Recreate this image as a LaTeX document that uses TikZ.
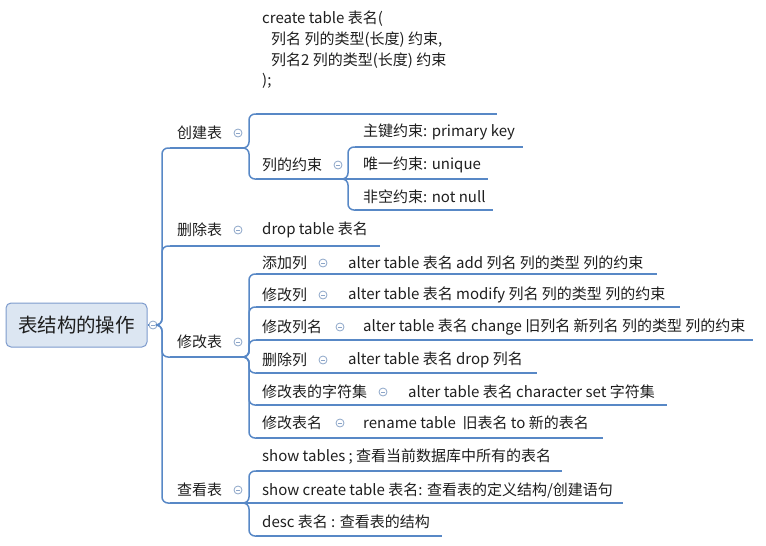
\documentclass[tikz,border=0pt]{standalone}
\usepackage{fontspec}
\setmainfont{Noto Sans CJK SC}
\definecolor{lc}{RGB}{88,136,198}
\definecolor{cc}{RGB}{140,165,200}
\definecolor{tc}{RGB}{30,30,30}
\definecolor{rf}{RGB}{220,230,242}
\definecolor{rb}{RGB}{125,155,205}
\tikzset{
  t/.style={anchor=west, inner sep=0pt, text=tc, font=\fontsize{15}{17}\selectfont},
  uline/.style={draw=lc, line width=1.5pt},
  conn/.style={draw=lc, line width=1.5pt, rounded corners=6pt},
  fold/.style={circle, draw=cc, fill=white, line width=0.8pt, minimum size=8pt, inner sep=0pt,
    path picture={\draw[cc, line width=0.8pt] ([xshift=-2pt]path picture bounding box.center) -- ([xshift=2pt]path picture bounding box.center);}},
  rootbox/.style={draw=rb, fill=rf, line width=1pt, rounded corners=5pt, minimum width=141pt, minimum height=44pt,
    inner sep=0pt, text=tc, font=\fontsize{19.5}{22}\selectfont}
}
\begin{document}
\begin{tikzpicture}[x=1pt, y=-1pt]
\useasboundingbox (0,0) rectangle (766,546);

% root
\node[rootbox] (root) at (76.5,325) {表结构的操作};
\node[fold] (rootc) at (153,325) {};
\coordinate (v0) at (162,325);

% level 1
\node[t] (cj) at (177,133) {创建表};
\coordinate (cj-l) at (170,148); \coordinate (cj-r) at (243,148);
\node[t] (sc) at (177,230) {删除表};
\coordinate (sc-l) at (170,246); \coordinate (sc-r) at (243,246);
\node[t] (xg) at (177,342) {修改表};
\coordinate (xg-l) at (170,357); \coordinate (xg-r) at (243,357);
\node[t] (ck) at (177,490) {查看表};
\coordinate (ck-l) at (170,503); \coordinate (ck-r) at (243,503);

\draw[conn] (root.east) -- (rootc.west);
\foreach \n in {cj,sc,xg,ck}{
  \draw[conn] (rootc.east) -- (v0) |- (\n-l);
  \draw[uline] (\n-l) -- (\n-r);
}

% 创建表 children
\coordinate (v1) at (249,148);
\node[t] (blk1) at (262,19) {create table 表名(};
\node[t] (blk2) at (271,40) {列名 列的类型(长度) 约束,};
\node[t] (blk3) at (271,61) {列名2 列的类型(长度) 约束};
\node[t] (blk4) at (262,81) {);};
\coordinate (blk-l) at (256,114); \coordinate (blk-r) at (497,114);
\node[t] (yz) at (262,165) {列的约束};
\coordinate (yz-l) at (256,179); \coordinate (yz-r) at (342,179);
\draw[conn] (cj-r) -- (v1) |- (blk-l);
\draw[conn] (cj-r) -- (v1) |- (yz-l);
\draw[uline] (blk-l) -- (blk-r);
\draw[uline] (yz-l) -- (yz-r);

% 列的约束 children
\coordinate (v2) at (348,179);
\node[t] (zj) at (363,132) {主键约束: primary key};
\coordinate (zj-l) at (355,147); \coordinate (zj-r) at (523,147);
\node[t] (wy) at (363,165) {唯一约束: unique};
\coordinate (wy-l) at (355,179); \coordinate (wy-r) at (488,179);
\node[t] (fk) at (363,197) {非空约束: not null};
\coordinate (fk-l) at (355,210); \coordinate (fk-r) at (493,210);
\draw[conn] (yz-r) -- (v2) |- (zj-l);
\draw[conn] (yz-r) -- (wy-l);
\draw[conn] (yz-r) -- (v2) |- (fk-l);
\foreach \n in {zj,wy,fk}{ \draw[uline] (\n-l) -- (\n-r); }

% 删除表 child
\node[t] (dt) at (262,230) {drop table 表名};
\coordinate (dt-l) at (256,246); \coordinate (dt-r) at (380,246);
\draw[conn] (sc-r) -- (dt-l);
\draw[uline] (dt-l) -- (dt-r);

% 修改表 children
\coordinate (v3) at (249,357);
\node[t] (tj) at (262,263) {添加列};
\coordinate (tj-l) at (256,274); \coordinate (tj-r) at (317,274);
\node[t] (tjg) at (348,263) {alter table 表名 add 列名 列的类型 列的约束};
\coordinate (tjg-l) at (338,274); \coordinate (tjg-r) at (657,274);

\node[t] (xl) at (262,295) {修改列};
\coordinate (xl-l) at (256,307); \coordinate (xl-r) at (317,307);
\node[t] (xlg) at (348,295) {alter table 表名 modify 列名 列的类型 列的约束};
\coordinate (xlg-l) at (338,307); \coordinate (xlg-r) at (680,307);

\node[t] (xm) at (262,327) {修改列名};
\coordinate (xm-l) at (256,340); \coordinate (xm-r) at (334,340);
\node[t] (xmg) at (363,327) {alter table 表名 change 旧列名 新列名 列的类型 列的约束};
\coordinate (xmg-l) at (353,340); \coordinate (xmg-r) at (753,340);

\node[t] (sl) at (262,360) {删除列};
\coordinate (sl-l) at (256,373); \coordinate (sl-r) at (317,373);
\node[t] (slg) at (348,360) {alter table 表名 drop 列名};
\coordinate (slg-l) at (338,373); \coordinate (slg-r) at (537,373);

\node[t] (zf) at (262,392) {修改表的字符集};
\coordinate (zf-l) at (256,405); \coordinate (zf-r) at (377,405);
\node[t] (zfg) at (408,392) {alter table 表名 character set 字符集};
\coordinate (zfg-l) at (398,405); \coordinate (zfg-r) at (667,405);

\node[t] (bm) at (262,423) {修改表名};
\coordinate (bm-l) at (256,438); \coordinate (bm-r) at (334,438);
\node[t] (bmg) at (363,423) {rename table~ 旧表名 to 新的表名};
\coordinate (bmg-l) at (353,438); \coordinate (bmg-r) at (603,438);

\foreach \n in {tj,xl,xm,sl,zf,bm}{
  \draw[conn] (xg-r) -- (v3) |- (\n-l);
  \draw[uline] (\n-l) -- (\n-r);
  \draw[conn] (\n-r) -- (\n g-l);
  \draw[uline] (\n g-l) -- (\n g-r);
}

% 查看表 children
\coordinate (v4) at (249,503);
\node[t] (st) at (262,457) {show tables ; 查看当前数据库中所有的表名};
\coordinate (st-l) at (256,471); \coordinate (st-r) at (562,471);
\node[t] (sct) at (262,490) {show create table 表名: 查看表的定义结构/创建语句};
\coordinate (sct-l) at (256,503); \coordinate (sct-r) at (623,503);
\node[t] (ds) at (262,522) {desc 表名 : 查看表的结构};
\coordinate (ds-l) at (256,536); \coordinate (ds-r) at (442,536);
\draw[conn] (ck-r) -- (v4) |- (st-l);
\draw[conn] (ck-r) -- (sct-l);
\draw[conn] (ck-r) -- (v4) |- (ds-l);
\foreach \n in {st,sct,ds}{ \draw[uline] (\n-l) -- (\n-r); }

% fold markers
\node[fold] (cj-c) at (238,133) {};
\node[fold] (sc-c) at (238,230) {};
\node[fold] (xg-c) at (238,342) {};
\node[fold] (ck-c) at (238,490) {};
\node[fold] (yz-c) at (338,165) {};
\node[fold] (tj-c) at (323,263) {};
\node[fold] (xl-c) at (323,295) {};
\node[fold] (xm-c) at (340,327) {};
\node[fold] (sl-c) at (323,360) {};
\node[fold] (zf-c) at (383,392) {};
\node[fold] (bm-c) at (340,423) {};
\end{tikzpicture}
\end{document}
